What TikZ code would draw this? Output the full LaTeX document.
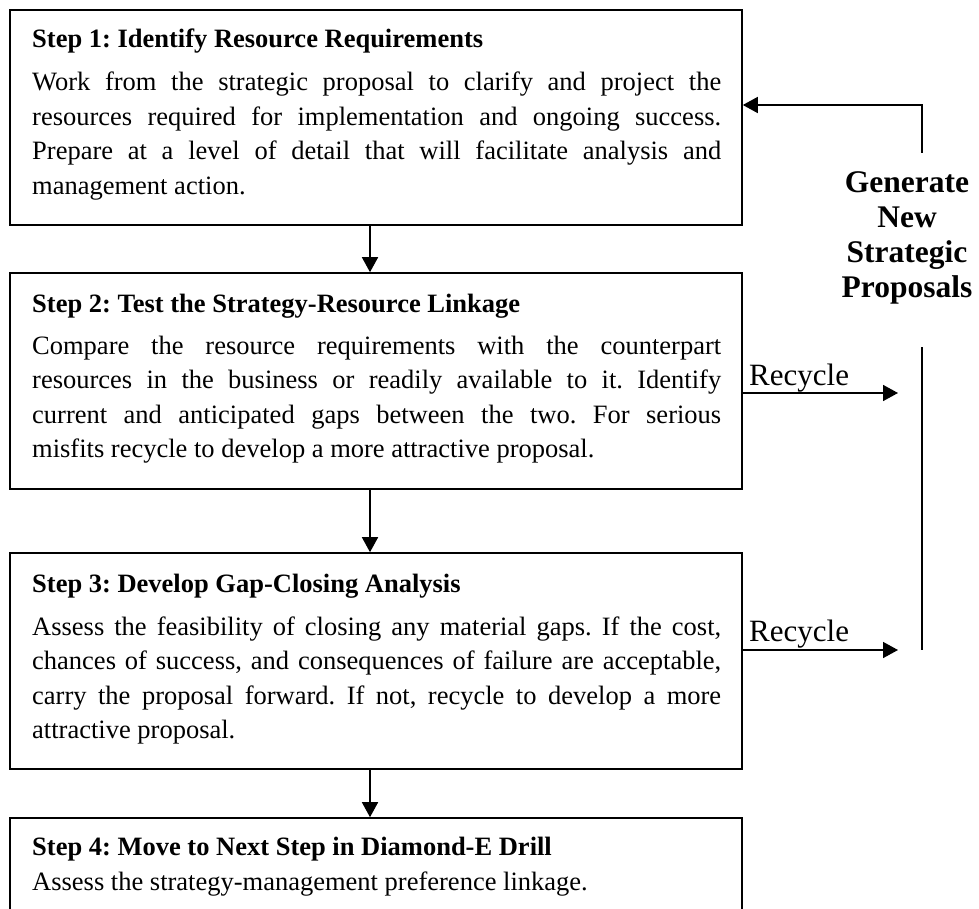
\documentclass[tikz,border=0pt]{standalone}
\usepackage{fontspec}
\setmainfont{Liberation Serif}
\usetikzlibrary{arrows.meta}
\frenchspacing
\newcommand{\jline}[1]{\hbox to 689pt{\makebox[689pt][s]{#1}}}
\newcommand{\lastline}[1]{\hbox{#1}}
\newcommand{\bodyblock}[1]{\vtop{\baselineskip=34.5pt\lineskiplimit=-100pt #1}}
\tikzset{
  stepbox/.style={draw, line width=1.6pt, minimum width=732pt, inner sep=0pt},
  titletext/.style={anchor=base west, inner sep=0pt, font=\fontsize{26.5}{32}\selectfont\bfseries},
  bodytext/.style={anchor=base west, inner sep=0pt, font=\fontsize{26.5}{34.5}\selectfont},
  sidetext/.style={anchor=base, inner sep=0pt, font=\fontsize{31.5}{34.5}\selectfont\bfseries},
  recyctext/.style={anchor=base west, inner sep=0pt, font=\fontsize{31}{34}\selectfont},
  conn/.style={line width=1.6pt},
  arr/.style={line width=1.6pt, -{Triangle[width=16pt,length=15pt]}}
}
\begin{document}
\begin{tikzpicture}[x=1pt,y=-1pt]
\useasboundingbox (0,0) rectangle (979,909);
% boxes
\node[stepbox, minimum height=215pt] (b1) at (376,117.5) {};
\node[stepbox, minimum height=216pt] (b2) at (376,381) {};
\node[stepbox, minimum height=216pt] (b3) at (376,661) {};
\node[stepbox, minimum height=124pt] (b4) at (376,880) {};
% titles
\node[titletext] (h1) at (32,48) {Step 1: Identify Resource Requirements};
\node[titletext] (h2) at (32,312) {Step 2: Test the Strategy-Resource Linkage};
\node[titletext] (h3) at (32,592) {Step 3: Develop Gap-Closing Analysis};
\node[titletext] (h4) at (32,855) {Step 4: Move to Next Step in Diamond-E Drill};
% bodies
\node[bodytext] (t1) at (32,91) {\bodyblock{%
  \jline{Work from the strategic proposal to clarify and project the}
  \jline{resources required for implementation and ongoing success.}
  \jline{Prepare at a level of detail that will facilitate analysis and}
  \lastline{management action.}}};
\node[bodytext] (t2) at (32,354) {\bodyblock{%
  \jline{Compare the resource requirements with the counterpart}
  \jline{resources in the business or readily available to it. Identify}
  \jline{current and anticipated gaps between the two. For serious}
  \lastline{misfits recycle to develop a more attractive proposal.}}};
\node[bodytext] (t3) at (32,635) {\bodyblock{%
  \jline{Assess the feasibility of closing any material gaps. If the cost,}
  \jline{chances of success, and consequences of failure are acceptable,}
  \jline{carry the proposal forward. If not, recycle to develop a more}
  \lastline{attractive proposal.}}};
\node[bodytext] (t4) at (32,890) {Assess the strategy-management preference linkage.};
% side text
\node[sidetext] (g1) at (907,193) {Generate};
\node[sidetext] (g2) at (907,228) {New};
\node[sidetext] (g3) at (907,262.5) {Strategic};
\node[sidetext] (g4) at (907,297) {Proposals};
\node[recyctext] (r1t) at (749,385) {Recycle};
\node[recyctext] (r2t) at (749,641) {Recycle};
% coordinates
\coordinate (fbstart) at (922,153);
\coordinate (fbturn) at (922,105);
\coordinate (vl1) at (922,347);
\coordinate (vl2) at (922,650);
\coordinate (r1) at (898,393);
\coordinate (r2) at (898,650);
% connectors
\draw[arr] ([xshift=-6pt]b1.south) -- ([xshift=-6pt]b2.north);
\draw[arr] ([xshift=-6pt]b2.south) -- ([xshift=-6pt]b3.north);
\draw[arr] ([xshift=-6pt]b3.south) -- ([xshift=-6pt]b4.north);
\draw[arr] (fbstart) -- (fbturn) -- (b1.east |- fbturn);
\draw[conn] (vl1) -- (vl2);
\draw[arr] (b2.east |- r1) -- (r1);
\draw[arr] (b3.east |- r2) -- (r2);
\end{tikzpicture}
\end{document}
